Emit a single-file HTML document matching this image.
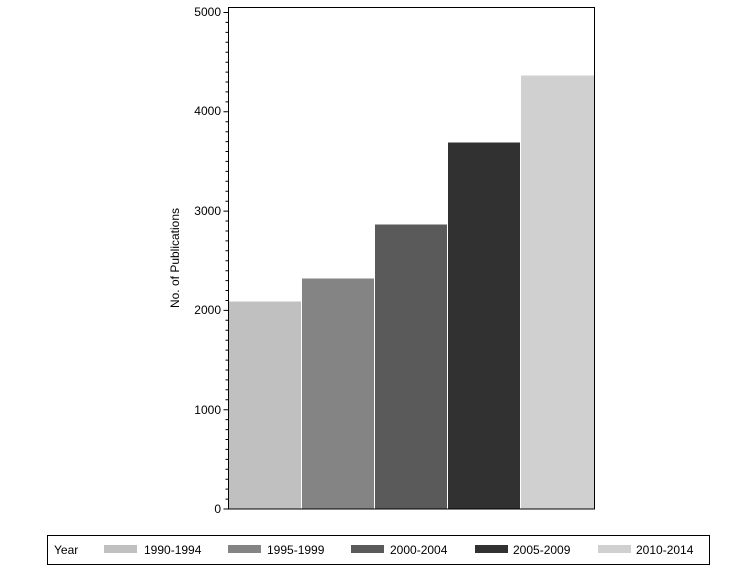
<!DOCTYPE html>
<html><head><style>body{margin:0;background:#fff}svg{display:block}text{font-family:"Liberation Sans",Arial,sans-serif;font-size:12px;fill:#000}</style></head><body>
<svg width="756" height="567" xmlns="http://www.w3.org/2000/svg">
<g stroke="#fff" stroke-width="1">
<rect x="228.5" y="301" width="73" height="208" fill="#c0c0c0"/>
<rect x="301.5" y="278" width="73" height="231" fill="#848484"/>
<rect x="374.5" y="224" width="73" height="285" fill="#5a5a5a"/>
<rect x="447.5" y="142" width="73" height="367" fill="#313131"/>
<rect x="520.5" y="75" width="74" height="434" fill="#d0d0d0"/>
</g>
<rect x="228.5" y="7.5" width="366" height="501.5" fill="none" stroke="#000"/>
<g stroke="#000">
<path id="t" d=""/>
<script>
var s='';for(var i=0;i<=50;i++){var y=509-i*9.93;var L=(i%10==0)?5:3;s+='M'+(228.5-L)+' '+y.toFixed(1)+'H228.5';}
document.getElementById('t').setAttribute('d',s);
</script>
</g>
<g text-anchor="end">
<text x="221" y="513">0</text>
<text x="221" y="414">1000</text>
<text x="221" y="314">2000</text>
<text x="221" y="215">3000</text>
<text x="221" y="115">4000</text>
<text x="221" y="16">5000</text>
</g>
<text transform="translate(179,258) rotate(-90)" text-anchor="middle">No. of Publications</text>
<rect x="47.5" y="535.5" width="662" height="29" fill="none" stroke="#000"/>
<text x="54" y="554">Year</text>
<rect x="104" y="545" width="33" height="8" fill="#c0c0c0"/><text x="144" y="554">1990-1994</text>
<rect x="228" y="545" width="33" height="8" fill="#848484"/><text x="267" y="554">1995-1999</text>
<rect x="351" y="545" width="33" height="8" fill="#5a5a5a"/><text x="390" y="554">2000-2004</text>
<rect x="475" y="545" width="33" height="8" fill="#313131"/><text x="513" y="554">2005-2009</text>
<rect x="598" y="545" width="33" height="8" fill="#d0d0d0"/><text x="636" y="554">2010-2014</text>
</svg>
</body></html>
